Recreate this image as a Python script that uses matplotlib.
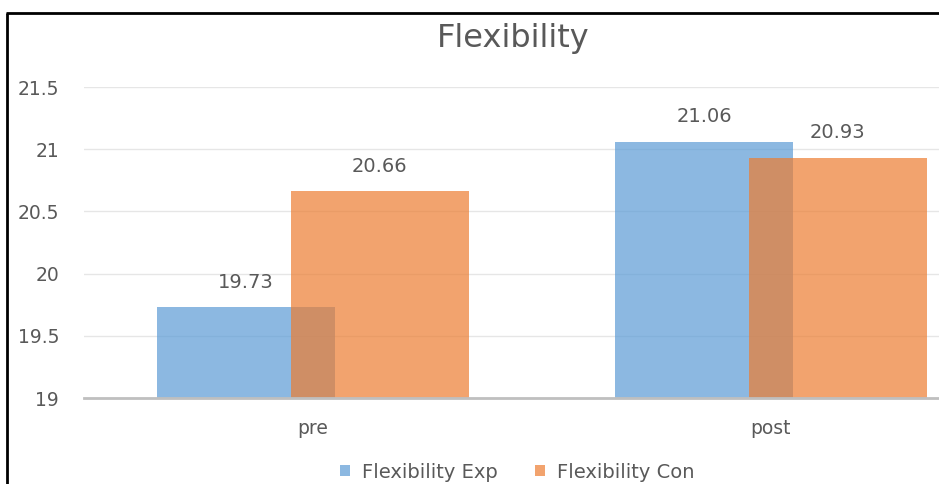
import matplotlib.pyplot as plt
from matplotlib.lines import Line2D
import numpy as np

# data
categories = ['pre', 'post']
exp_values = [19.73, 21.06]
con_values = [20.66, 20.93]
series_names = ['Flexibility Exp', 'Flexibility Con']

plt.rcParams['font.family'] = ['DejaVu Sans']

W, H = 939, 484
fig = plt.figure(figsize=(W / 100, H / 100), dpi=100)

# axes runs past the right edge of the picture (the original is cropped)
ax = fig.add_axes([84 / W, 86 / H, 916 / W, 311 / H])

x = np.arange(len(categories))
width = 0.389
offset = 0.146
blue = '#5b9bd5'
orange = '#ed7d31'
grey = '#595959'

b1 = ax.bar(x - offset, exp_values, width, color=blue, alpha=0.7, label=series_names[0], zorder=2)
b2 = ax.bar(x + offset, con_values, width, color=orange, alpha=0.7, label=series_names[1], zorder=3)

for bars in (b1, b2):
    for rect in bars:
        h = rect.get_height()
        ax.annotate(f'{h:.2f}', (rect.get_x() + rect.get_width() / 2, h),
                    xytext=(0, 18), textcoords='offset points',
                    ha='center', va='center', fontsize=14, color=grey)

ax.set_xlim(-0.5, 1.5)
ax.set_ylim(19, 21.5)
ax.set_yticks([19, 19.5, 20, 20.5, 21, 21.5])
ax.set_yticklabels(['19', '19.5', '20', '20.5', '21', '21.5'])
ax.set_xticks(x)
ax.set_xticklabels(categories)
ax.tick_params(axis='both', length=0, labelsize=13.5, colors=grey)
ax.tick_params(axis='y', pad=18)
ax.tick_params(axis='x', pad=15)

ax.grid(axis='y', color='#e6e6e6', linewidth=1, zorder=0)
for s in ['top', 'right', 'left']:
    ax.spines[s].set_visible(False)
ax.spines['bottom'].set_color('#bfbfbf')
ax.spines['bottom'].set_linewidth(2)
ax.spines['bottom'].set_zorder(4)

fig.text(513 / W, 1 - 38 / H, 'Flexibility', ha='center', va='center',
         fontsize=23, color=grey)

leg = fig.legend(loc='center', bbox_to_anchor=(517 / W, 1 - 472 / H), ncol=2,
                 frameon=False, fontsize=14, handlelength=0.55, handleheight=0.55,
                 columnspacing=1.9, handletextpad=0.6)
for t in leg.get_texts():
    t.set_color(grey)

# chart border (left and top visible)
fig.add_artist(Line2D([6.5 / W, 6.5 / W], [0, 1 - 12.5 / H], color='black', linewidth=2,
                      solid_capstyle='butt'))
fig.add_artist(Line2D([5.5 / W, 1], [1 - 12.5 / H, 1 - 12.5 / H], color='black', linewidth=2,
                      solid_capstyle='butt'))

fig.savefig('out.png', dpi=100)
